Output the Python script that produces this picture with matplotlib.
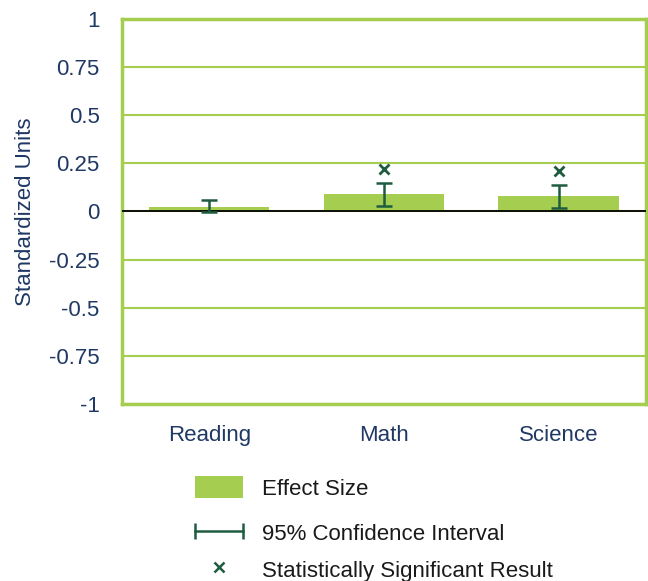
import matplotlib.pyplot as plt
from matplotlib.patches import Patch
from matplotlib.lines import Line2D
from matplotlib.legend_handler import HandlerLine2D

subjects = ["Reading", "Math", "Science"]
effect = [0.025, 0.09, 0.08]
ci_low = [-0.005, 0.03, 0.02]
ci_high = [0.062, 0.15, 0.14]
sig_subjects = ["Math", "Science"]
sig_marks = [0.22, 0.21]
yticks = [-1, -0.75, -0.5, -0.25, 0, 0.25, 0.5, 0.75, 1]
ytick_labels = ["-1", "-0.75", "-0.5", "-0.25", "0", "0.25", "0.5", "0.75", "1"]
legend_labels = ["Effect Size", "95% Confidence Interval", "Statistically Significant Result"]

bar_green = "#A5CD50"
dark_green = "#1E5C40"
navy = "#1F3864"

plt.rcParams['font.family'] = ['Liberation Sans', 'DejaVu Sans']

fig = plt.figure(figsize=(6.48, 5.81), dpi=100)
ax = fig.add_axes([0.188, 0.305, 0.809, 0.662])

x = list(range(len(subjects)))
ax.bar(x, effect, width=0.69, color=bar_green, zorder=2)
ax.axhline(0, color="black", lw=1.3, zorder=3)

err_lo = [e - l for e, l in zip(effect, ci_low)]
err_hi = [h - e for e, h in zip(effect, ci_high)]
ax.errorbar(x, effect, yerr=[err_lo, err_hi], fmt="none", ecolor=dark_green,
            elinewidth=1.8, capsize=5.5, capthick=1.8, zorder=4)

sx = [subjects.index(s) for s in sig_subjects]
ax.plot(sx, sig_marks, ls="none", marker="x", color=dark_green,
        markersize=7, mew=2, zorder=4)

ax.set_xlim(-0.5, 2.5)
ax.set_ylim(-1, 1)
ax.set_yticks(yticks)
ax.set_yticklabels(ytick_labels)
ax.set_xticks(x)
ax.set_xticklabels(subjects)
ax.tick_params(length=0, labelsize=16, labelcolor=navy)
ax.tick_params(axis="y", pad=16)
ax.tick_params(axis="x", pad=15)
ax.yaxis.grid(True, color=bar_green, lw=1.5)
ax.set_axisbelow(True)
for sp in ax.spines.values():
    sp.set_color(bar_green)
    sp.set_linewidth(2.5)
ax.set_ylabel("Standardized Units", color=navy, fontsize=16, labelpad=9)

# legend: three single-entry legends, rows are not evenly spaced in the original
h_bar = Patch(facecolor=bar_green, edgecolor="none")
h_ci = Line2D([], [], color=dark_green, lw=1.8, marker="|", markersize=12, mew=1.8)
h_sig = Line2D([], [], ls="none", marker="x", color=dark_green, markersize=6.5, mew=1.8)
rows_y = [1 - 488 / 581, 1 - 533 / 581, 1 - 570 / 581]
for h, lab, yy in zip([h_bar, h_ci, h_sig], legend_labels, rows_y):
    leg = fig.legend([h], [lab], loc="center left", bbox_to_anchor=(195 / 648, yy),
                     frameon=False, fontsize=16, handlelength=2.15, handleheight=1.08,
                     handletextpad=0.85, borderpad=0, borderaxespad=0,
                     handler_map={h_ci: HandlerLine2D(numpoints=2, marker_pad=0)})
    for t in leg.get_texts():
        t.set_color("#1a1a1a")

fig.savefig("out.png", dpi=100)
